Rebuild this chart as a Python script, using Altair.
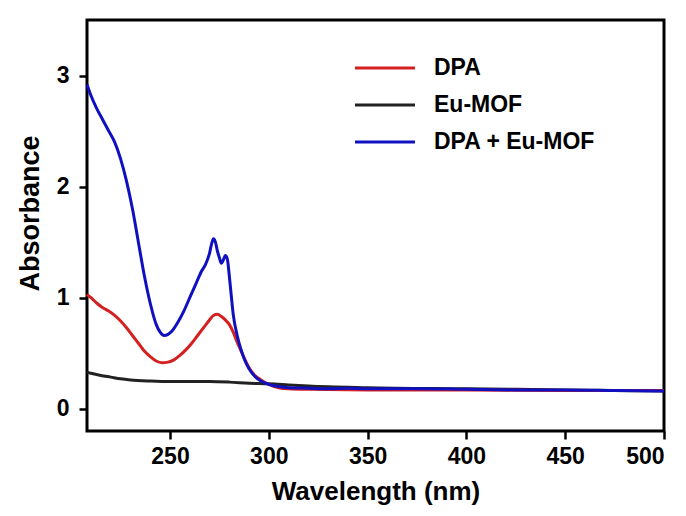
import altair as alt
import pandas as pd

# Wavelength grids (nm) and absorbance values
wl_blue = [208, 210, 213, 216, 219, 222, 225, 228, 231, 234, 237, 240, 243, 245, 247, 249, 251,
           254, 257, 260, 263, 266, 268, 270, 271, 272, 273, 274, 275, 276, 277, 278, 279, 280,
           281, 282, 284, 286, 288, 290, 293, 296, 300, 305, 310, 320, 330, 340, 350, 375, 400,
           425, 450, 475, 500]
abs_blue = [2.92, 2.82, 2.70, 2.60, 2.50, 2.40, 2.25, 2.05, 1.80, 1.50, 1.20, 0.95, 0.76, 0.69,
            0.66, 0.67, 0.70, 0.78, 0.88, 1.00, 1.12, 1.24, 1.30, 1.40, 1.48, 1.53, 1.50, 1.42,
            1.36, 1.31, 1.34, 1.38, 1.35, 1.20, 1.02, 0.85, 0.66, 0.53, 0.43, 0.36, 0.29, 0.25,
            0.22, 0.20, 0.19, 0.185, 0.18, 0.185, 0.18, 0.18, 0.175, 0.17, 0.17, 0.165, 0.16]

wl_red = [208, 210, 213, 216, 219, 222, 225, 228, 231, 234, 237, 240, 243, 246, 249, 252,
          255, 258, 261, 264, 267, 270, 272, 274, 276, 278, 280, 282, 284, 286, 288, 290,
          293, 296, 300, 305, 310, 320, 350, 400, 450, 500]
abs_red = [1.03, 1.00, 0.95, 0.91, 0.88, 0.84, 0.79, 0.73, 0.66, 0.59, 0.52, 0.47, 0.43, 0.415,
           0.42, 0.44, 0.48, 0.53, 0.59, 0.66, 0.73, 0.80, 0.84, 0.85, 0.83, 0.80, 0.76, 0.69,
           0.60, 0.52, 0.44, 0.37, 0.30, 0.26, 0.22, 0.19, 0.18, 0.175, 0.17, 0.17, 0.165, 0.165]

wl_black = [208, 210, 215, 220, 225, 230, 240, 250, 260, 270, 280, 290, 300, 310, 320,
            350, 400, 450, 500]
abs_black = [0.33, 0.32, 0.30, 0.285, 0.27, 0.26, 0.25, 0.245, 0.245, 0.245, 0.24, 0.23,
             0.225, 0.215, 0.205, 0.19, 0.18, 0.17, 0.16]

series = ["DPA", "Eu-MOF", "DPA + Eu-MOF"]
colors = ["#d42020", "#222222", "#1010c0"]

df = pd.concat([
    pd.DataFrame({"wl": wl_black, "A": abs_black, "s": "Eu-MOF"}),
    pd.DataFrame({"wl": wl_red, "A": abs_red, "s": "DPA"}),
    pd.DataFrame({"wl": wl_blue, "A": abs_blue, "s": "DPA + Eu-MOF"}),
])

FONT = "Liberation Sans"

color = alt.Color("s:N", scale=alt.Scale(domain=series, range=colors),
                  legend=alt.Legend(title=None, orient="none", legendX=286, legendY=36,
                                    symbolType="M-3,0H3", symbolStrokeWidth=3.2, symbolSize=400,
                                    labelFont=FONT, labelFontSize=23, labelFontWeight="bold",
                                    labelColor="black", rowPadding=13, labelOffset=37,
                                    labelLimit=0))

base = alt.Chart(df).mark_line(strokeWidth=3, interpolate="monotone").encode(
    x=alt.X("wl:Q", scale=alt.Scale(domain=[208, 500], nice=False, zero=False),
            axis=alt.Axis(title="Wavelength (nm)", values=[250, 300, 350, 400, 450, 500])),
    y=alt.Y("A:Q", scale=alt.Scale(domain=[-0.2, 3.5], nice=False),
            axis=alt.Axis(title="Absorbance", values=[0, 1, 2, 3], titleY=193)),
    color=color,
    order=alt.Order("wl:Q"),
)

layers = [base.transform_filter(alt.datum.s == name) for name in ["Eu-MOF", "DPA", "DPA + Eu-MOF"]]

chart = alt.layer(*layers).properties(
    width=577, height=411,
    autosize=alt.AutoSizeParams(type="none"),
    padding={"left": 87, "top": 20, "right": 22, "bottom": 85},
).configure_view(stroke="black", strokeWidth=3).configure_axis(
    domain=False, grid=False, ticks=True, tickSize=8, tickWidth=2.5, tickColor="black",
    labelFont=FONT, labelFontWeight="bold", labelColor="black",
    titleFont=FONT, titleFontWeight="bold", titleColor="black",
).configure_axisY(labelFontSize=23, labelPadding=10, titleFontSize=27, titlePadding=12).configure_axisX(
    labelFontSize=23, labelPadding=6, titleFontSize=26, titlePadding=10)

chart.save("out.html", embed_options={"renderer": "svg", "actions": False})
